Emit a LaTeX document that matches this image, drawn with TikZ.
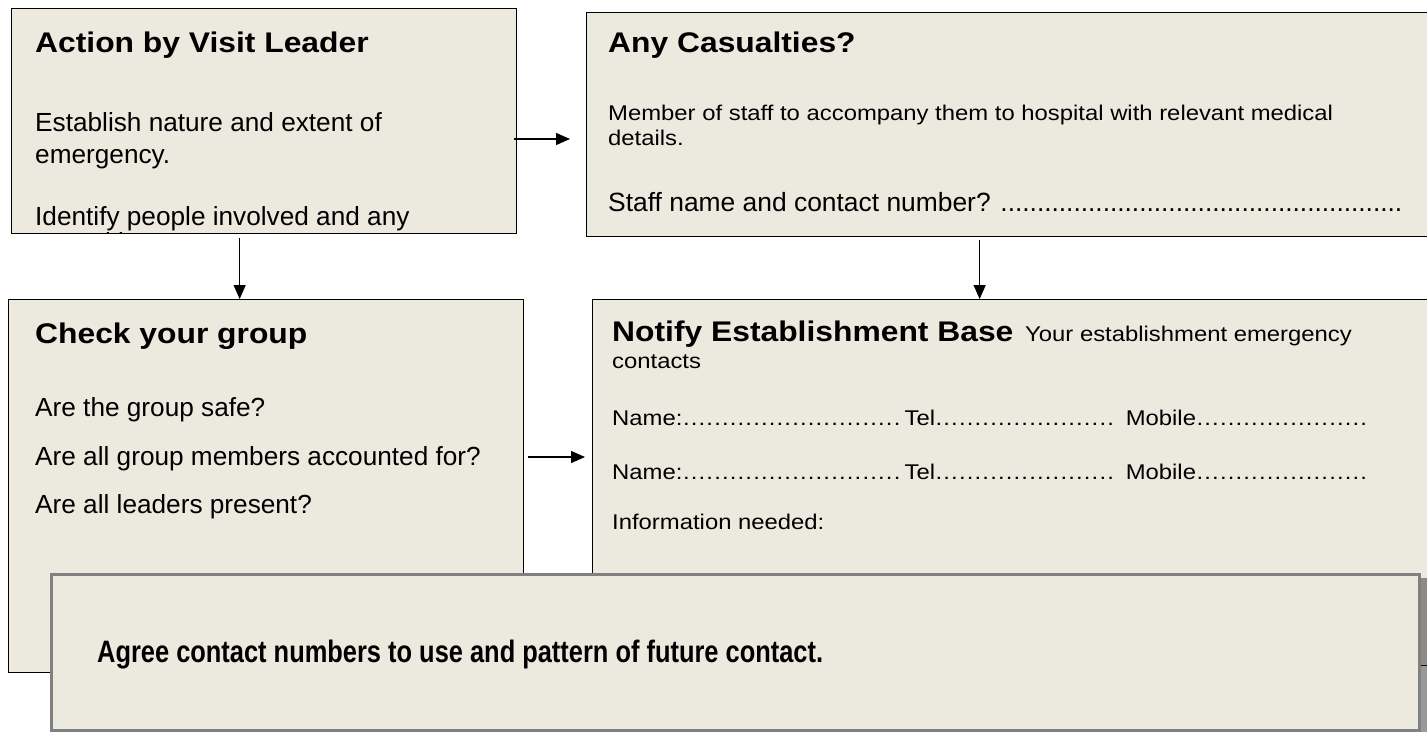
\documentclass[tikz,border=0pt]{standalone}
\usepackage{fontspec}
\setmainfont{Liberation Sans}
\newfontfamily\fwide{Liberation Sans}[FakeStretch=1.12]
\newfontfamily\fnarrow{Liberation Sans}[FakeStretch=0.82]
\usetikzlibrary{arrows.meta}
\definecolor{boxfill}{RGB}{236,233,223}
\definecolor{boxgray}{RGB}{128,128,128}
\newcommand\leaderdots[2]{\hbox to #1{\leaders\hbox to #2{\hss.\hss}\hfil}}
\begin{document}
\begin{tikzpicture}[x=1pt,y=-1pt,
  panel/.style={draw=black, line width=1.3pt, fill=boxfill, anchor=north west, inner sep=0pt},
  conn/.style={line width=1.3pt, -{Triangle[length=14pt,width=12pt]}},
  txt/.style={anchor=base west, inner sep=0pt, text=black},
  ttl/.style={txt, font=\fwide\bfseries\fontsize{28.4}{32}\selectfont},
  bodyA/.style={txt, font=\fontsize{26.2}{30}\selectfont},
  bodyS/.style={txt, font=\fwide\fontsize{21.3}{25}\selectfont},
  staffline/.style={txt, font=\fontsize{26.4}{30}\selectfont},
  agree/.style={txt, font=\fnarrow\bfseries\fontsize{31}{35}\selectfont}
]
\useasboundingbox (0,0) rectangle (1427,731);
\fill[white] (0,0) rectangle (1427,731);

% boxes
\node[panel, minimum width=505pt, minimum height=225pt] (A) at (11,8) {};
\node[panel, minimum width=860pt, minimum height=224pt] (B) at (586,12) {};
\node[panel, minimum width=515pt, minimum height=373pt] (C) at (8,299) {};
\node[panel, minimum width=860pt, minimum height=366pt] (D) at (592,299) {};

% box A text (last line cut by the box edge)
\begin{scope}
\clip (11,8) rectangle (516,233);
\node[ttl] (At) at (35,52) {Action by Visit Leader};
\node[bodyA] (A1) at (35,131) {Establish nature and extent of};
\node[bodyA] (A2) at (35,163) {emergency.};
\node[bodyA] (A3) at (35,225) {Identify people involved and any};
\node[bodyA] (A4) at (35,251) {casualties.};
\end{scope}

% box B text
\node[ttl] (Bt) at (608,52) {Any Casualties?};
\node[bodyS] (B1) at (608,120) {Member of staff to accompany them to hospital with relevant medical};
\node[bodyS] (B2) at (608,145) {details.};
\node[staffline] (B3) at (608,211) {Staff name and contact number? \leaderdots{404pt}{7.3pt}};

% box C text
\node[ttl] (Ct) at (35,343) {Check your group};
\node[bodyA] (C1) at (35,416) {Are the group safe?};
\node[bodyA] (C2) at (35,465) {Are all group members accounted for?};
\node[bodyA] (C3) at (35,513) {Are all leaders present?};

% box D text
\node[ttl] (Dt) at (612,341) {Notify Establishment Base};
\node[bodyS] (Dt2) at (1025,341) {Your establishment emergency};
\node[bodyS] (D0) at (612,368) {contacts};
\node[bodyS] (D1) at (612,425) {Name:\leaderdots{222pt}{7.8pt}Tel\leaderdots{184pt}{7.8pt} Mobile\leaderdots{175pt}{7.8pt}};
\node[bodyS] (D2) at (612,479) {Name:\leaderdots{222pt}{7.8pt}Tel\leaderdots{184pt}{7.8pt} Mobile\leaderdots{175pt}{7.8pt}};
\node[bodyS] (D3) at (612,529) {Information needed:};

% connectors
\draw[conn] ([xshift=-3pt,yshift=-131pt]A.north east) -- ([xshift=-16pt,yshift=-127pt]B.north west);
\draw[conn] ([xshift=-24.5pt,yshift=-4pt]A.south) -- ([xshift=-26.5pt]C.north);
\draw[conn] ([xshift=-37pt,yshift=-3pt]B.south) -- ([xshift=-43pt]D.north);
\draw[conn] ([xshift=4pt,yshift=-158pt]C.north east) -- ([xshift=-7pt,yshift=-158pt]D.north west);

% bottom box with shadow
\fill[black, opacity=0.4] (58,578) rectangle (1430,740);
\node[panel, draw=boxgray, line width=3pt, minimum width=1368pt, minimum height=156pt] (E) at (50,573) {};
\node[agree] (Et) at (97,662) {Agree contact numbers to use and pattern of future contact.};
\end{tikzpicture}
\end{document}
